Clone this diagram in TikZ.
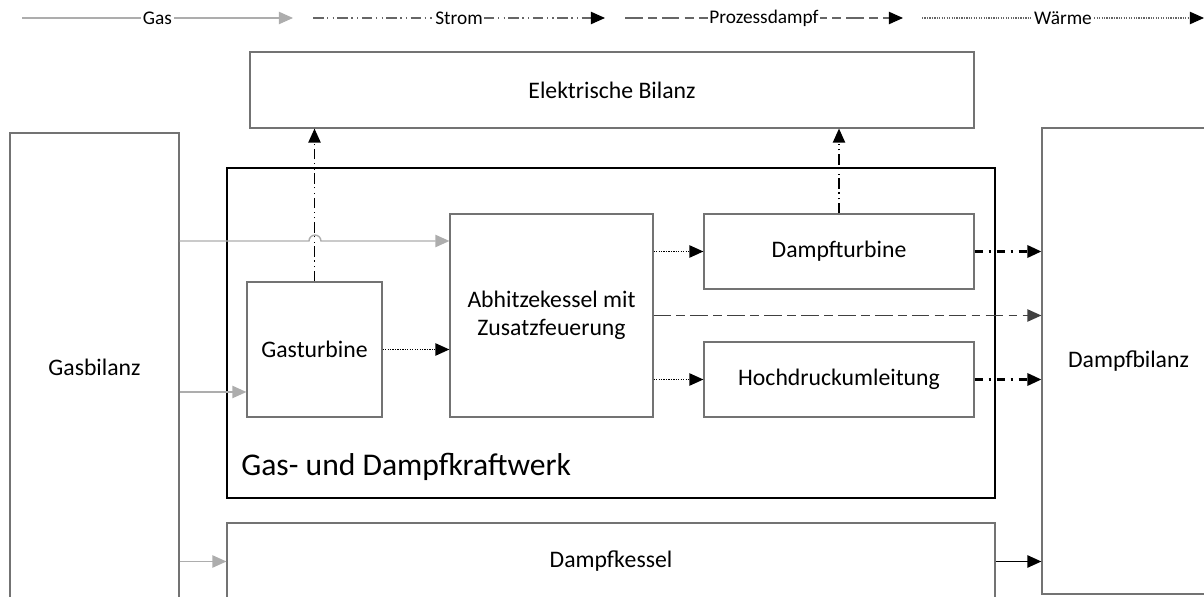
\documentclass[tikz,border=0pt]{standalone}
\usepackage{fontspec}
\setmainfont{Carlito}
\usetikzlibrary{arrows.meta}

\begin{document}
\begin{tikzpicture}[x=0.02cm,y=-0.02cm,
    box/.style={draw=black!55,line width=0.7pt,inner sep=0pt,align=center,
      font=\fontsize{13.5}{16}\selectfont},
    tip/.style={-{Triangle[length=8pt,width=7pt]}},
    gas/.style={tip,draw=black!32,line width=0.8pt},
    strom/.style={tip,line width=0.8pt,
      dash pattern=on 6pt off 2pt on 0.7pt off 2.5pt on 0.7pt off 2pt},
    dampf/.style={tip,draw=black!75,line width=0.8pt,
      dash pattern=on 10pt off 3pt on 5pt off 3pt},
    dampfdick/.style={tip,line width=1.4pt,
      dash pattern=on 5pt off 3pt on 1.5pt off 3pt},
    waerme/.style={tip,line width=0.9pt,dash pattern=on 0.7pt off 0.7pt},
    legtext/.style={fill=white,inner sep=1pt,text=black,
      font=\fontsize{11}{13}\selectfont}]
  \useasboundingbox (0,0) rectangle (1204,597);

  % Legende
  \draw[gas,line width=0.6pt] (22,18) -- node[legtext] {Gas} (293,18);
  \draw[strom,draw=black!60,line width=0.6pt,-{Triangle[length=8pt,width=7pt,black]}]
    (313,18) -- node[legtext] {Strom} (605,18);
  \draw[dampf,draw=black!60,line width=0.6pt,-{Triangle[length=8pt,width=7pt,black]}]
    (625,18) -- node[legtext] {Prozessdampf} (903,18);
  \draw[waerme,draw=black!60,line width=0.6pt,-{Triangle[length=8pt,width=7pt,black]}]
    (922,18) -- node[legtext] {Wärme} (1204,18);

  % Bilanzen
  \node[box,minimum width=14.48cm,minimum height=1.52cm] (elek) at (612,90) {Elektrische Bilanz};
  \node[box,minimum width=3.38cm,minimum height=9.36cm] (gasbil) at (94.5,367) {Gasbilanz};
  \node[box,minimum width=3.46cm,minimum height=9.32cm] (dampfbil) at (1128.5,361) {Dampfbilanz};

  % GuD
  \node[draw,line width=1.2pt,minimum width=15.36cm,minimum height=6.6cm] (gud) at (611,333) {};
  \node[anchor=base west,inner sep=0pt,font=\fontsize{18}{21}\selectfont] (gudlabel)
    at (241,476) {Gas- und Dampfkraftwerk};
  \node[box,minimum width=2.7cm,minimum height=2.7cm] (gasturb) at (314.5,349.5) {Gasturbine};
  \node[box,minimum width=4.06cm,minimum height=4.06cm] (ahk) at (551.5,315.5)
    {Abhitzekessel mit\\Zusatzfeuerung};
  \node[box,minimum width=5.4cm,minimum height=1.5cm] (dturb) at (839,251.5) {Dampfturbine};
  \node[box,minimum width=5.4cm,minimum height=1.5cm] (hdu) at (839,379.5) {Hochdruckumleitung};
  \node[box,minimum width=15.36cm,minimum height=1.54cm] (dkessel) at (611,561.5) {Dampfkessel};

  % Gas
  \draw[gas] (gasbil.east |- 0,241) -- (309,241)
    arc[start angle=180,end angle=0,radius=3.4pt] -- (ahk.west |- 0,241);
  \draw[gas] (gasbil.east |- 0,392) -- (gasturb.west |- 0,392);
  \draw[gas] (gasbil.east |- dkessel.west) -- (dkessel.west);

  % Strom
  \draw[strom] (gasturb.north) -- (gasturb.north |- elek.south);
  \draw[strom] (dturb.north) -- (dturb.north |- elek.south);

  % Waerme
  \draw[waerme] (gasturb.east) -- (gasturb.east -| ahk.west);
  \draw[waerme] (ahk.east |- dturb.west) -- (dturb.west);
  \draw[waerme] (ahk.east |- hdu.west) -- (hdu.west);

  % Prozessdampf
  \draw[dampf] (ahk.east) -- (ahk.east -| dampfbil.west);
  \draw[dampfdick] (dturb.east) -- (dturb.east -| dampfbil.west);
  \draw[dampfdick] (hdu.east) -- (hdu.east -| dampfbil.west);
  \draw[tip,line width=1pt] (dkessel.east) -- (dkessel.east -| dampfbil.west);
\end{tikzpicture}
\end{document}
